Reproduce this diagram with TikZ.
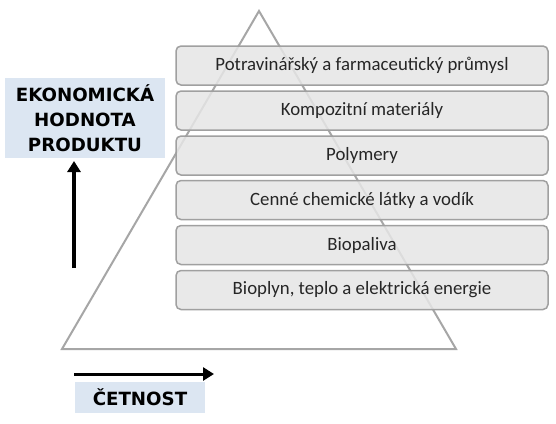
\documentclass[tikz,border=0pt]{standalone}
\usepackage{fontspec}
\setmainfont{Carlito}
\newfontfamily\labelfont{DejaVu Sans}
\usetikzlibrary{arrows.meta}
\definecolor{boxfill}{HTML}{E6E6E6}
\definecolor{boxline}{HTML}{A0A0A0}
\definecolor{trigray}{HTML}{A6A6A6}
\definecolor{lblue}{HTML}{DCE6F2}
\tikzset{
  tier/.style={draw=boxline, line width=1.5pt, fill=boxfill, fill opacity=0.85, text opacity=1, rounded corners=5pt,
    minimum width=372pt, minimum height=39pt, inner sep=0pt, font=\fontsize{18.8}{22}\selectfont, text=black!85},
  axislabel/.style={fill=lblue, inner sep=0pt, font=\labelfont\bfseries\fontsize{18.2}{25}\selectfont, align=center},
  axisarrow/.style={line width=3.5pt, -{Triangle[length=11pt,width=13pt]}}
}
\begin{document}
\begin{tikzpicture}[x=1pt,y=-1pt]
\useasboundingbox (0,0) rectangle (556,423);
\fill[white] (0,0) rectangle (556,423);
% triangle
\coordinate (apex) at (259,11);
\coordinate (bl) at (62,349);
\coordinate (br) at (456,349);
\draw[trigray, line width=2pt, line join=miter] (apex) -- (br) -- (bl) -- cycle;
% tiers
\node[tier] (t1) at (362,65.5) {Potravinářský a farmaceutický průmysl};
\node[tier] (t2) at (362,110.5) {Kompozitní materiály};
\node[tier] (t3) at (362,155.5) {Polymery};
\node[tier] (t4) at (362,200) {Cenné chemické látky a vodík};
\node[tier] (t5) at (362,245) {Biopaliva};
\node[tier] (t6) at (362,290) {Bioplyn, teplo a elektrická energie};
% axis labels
\node[axislabel, minimum width=160pt, minimum height=80pt] (ek) at (85,118) {EKONOMICKÁ\\HODNOTA\\PRODUKTU};
\node[axislabel, minimum width=130pt, minimum height=31pt] (ce) at (140,397.5) {ČETNOST};
% arrows
\coordinate (vs) at (74,268);
\coordinate (ve) at (74,161);
\coordinate (hs) at (74,374);
\coordinate (he) at (214,374);
\draw[axisarrow] (vs) -- (ve);
\draw[axisarrow, line width=3pt] (hs) -- (he);
\end{tikzpicture}
\end{document}
